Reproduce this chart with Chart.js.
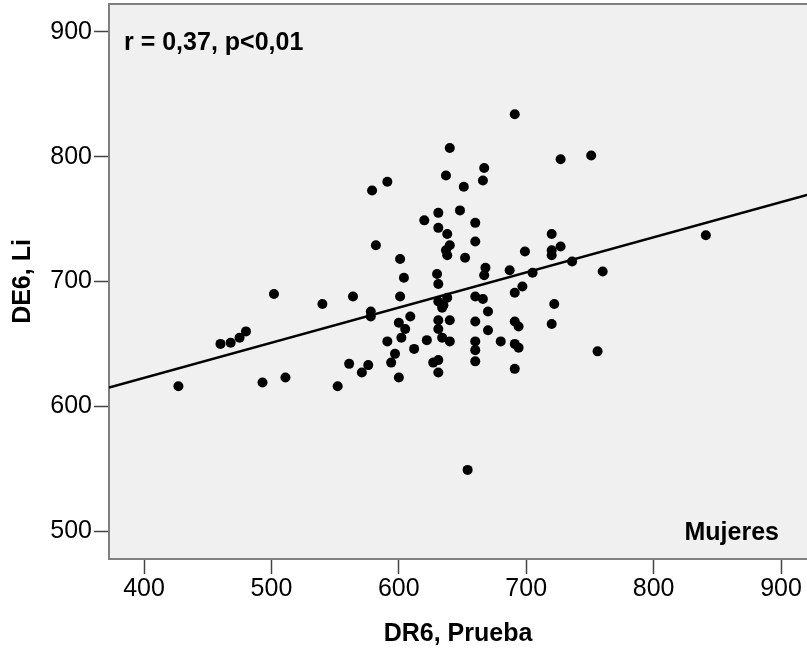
<!DOCTYPE html>
<html><head><meta charset="utf-8">
<script src="https://cdn.jsdelivr.net/npm/chart.js@4/dist/chart.umd.min.js"></script>
<style>html,body{margin:0;padding:0;background:#fff;overflow:hidden}canvas{display:block}</style>
</head><body>
<canvas id="c" width="807" height="652"></canvas>
<script>
// DR6, Prueba (x) values of each woman
const dr6Prueba = [
  427,460,468,475,480,502,493,511,540,564,
  552,561,571,576,578,578,591,594,597,600,
  600,605,602,609,612,622,601,601,604,579,
  591,582,620,631,631,648,640,637,651,667,
  666,660,660,638,640,637,638,652,630,631,
  668,667,687,699,705,720,720,720,727,727,
  751,691,736,760,841,691,697,722,720,631,
  638,634,635,660,666,670,660,670,691,694,
  631,640,631,634,640,627,631,631,660,660,
  660,680,691,694,691,756,654
];
// DE6, Li (y) values, same order
const de6Li = [
  616,650,651,655,660,690,619,623,682,688,
  616,634,627,633,676,672,652,635,642,623,
  667,662,655,672,646,653,688,718,703,773,
  780,729,749,755,743,757,807,785,776,791,
  781,747,732,738,729,725,721,719,706,698,
  711,705,709,724,707,738,725,721,728,798,
  801,834,716,708,737,691,696,682,666,684,
  687,679,681,688,686,676,668,661,668,664,
  669,669,662,655,652,635,637,627,652,645,
  636,652,650,647,630,644,549
];
// regression line end points
const fitLineX = [372.5, 920.4];
const fitLineY = [615, 769.4];
const xTickValues = [400, 500, 600, 700, 800, 900];
const yTickValues = [500, 600, 700, 800, 900];
const xRange = [372.5, 920.4];
const yRange = [477.6, 922.4];
const xTitle = 'DR6, Prueba';
const yTitle = 'DE6, Li';
const statLabel = 'r = 0,37, p<0,01';
const groupLabel = 'Mujeres';

const FONT = "'Liberation Sans', Arial, sans-serif";
Chart.defaults.font.family = FONT;

const decor = {
  id: 'decor',
  beforeDraw(chart) {
    const {ctx, chartArea: a} = chart;
    ctx.save();
    ctx.fillStyle = '#f0f0f0';
    ctx.fillRect(a.left, a.top, a.right - a.left, a.bottom - a.top);
    ctx.strokeStyle = '#808080';
    ctx.lineWidth = 2;
    ctx.beginPath();
    ctx.moveTo(a.left, a.top);
    ctx.lineTo(a.right, a.top);
    ctx.stroke();
    ctx.restore();
  },
  afterDatasetsDraw(chart) {
    const {ctx, chartArea: a} = chart;
    ctx.save();
    ctx.fillStyle = '#000';
    ctx.font = "bold 25px " + FONT;
    ctx.textBaseline = 'alphabetic';
    ctx.textAlign = 'left';
    ctx.fillText(statLabel, a.left + 15, a.top + 46);
    ctx.textAlign = 'right';
    ctx.fillText(groupLabel, a.right - 28, a.bottom - 19);
    ctx.restore();
  }
};

const pts = dr6Prueba.map((x, i) => ({x: x, y: de6Li[i]}));
const line = fitLineX.map((x, i) => ({x: x, y: fitLineY[i]}));

new Chart(document.getElementById('c'), {
  type: 'scatter',
  data: {
    datasets: [
      {data: line, showLine: true, borderColor: '#000', borderWidth: 2.5, pointRadius: 0, fill: false, order: 2},
      {data: pts, pointRadius: 5, backgroundColor: '#000', borderWidth: 0, order: 1}
    ]
  },
  options: {
    responsive: false,
    animation: false,
    events: [],
    layout: {autoPadding: false, padding: {top: 4, left: 0, right: 0, bottom: 0}},
    plugins: {legend: {display: false}, tooltip: {enabled: false}},
    scales: {
      x: {
        type: 'linear', min: xRange[0], max: xRange[1],
        afterBuildTicks: s => { s.ticks = xTickValues.map(v => ({value: v})); },
        afterFit: s => { s.height = 93; s.paddingLeft = 0; s.paddingRight = 0; },
        ticks: {font: {size: 25}, color: '#000', padding: 0, maxRotation: 0, autoSkip: false},
        grid: {drawOnChartArea: false, drawTicks: true, tickLength: 15, tickColor: '#444', tickWidth: 1.5},
        border: {color: '#808080', width: 2},
        title: {display: true, text: xTitle, color: '#000', font: {size: 25, weight: 'bold'}, padding: {top: 0, bottom: 3}}
      },
      y: {
        type: 'linear', min: yRange[0], max: yRange[1],
        afterBuildTicks: s => { s.ticks = yTickValues.map(v => ({value: v})); },
        afterFit: s => { s.width = 109; s.paddingTop = 0; s.paddingBottom = 0; },
        ticks: {font: {size: 25}, color: '#000', padding: 2, autoSkip: false},
        grid: {drawOnChartArea: false, drawTicks: true, tickLength: 15, tickColor: '#444', tickWidth: 1.5},
        border: {color: '#808080', width: 2},
        title: {display: true, text: yTitle, color: '#000', font: {size: 25, weight: 'bold'}, padding: {top: 8, bottom: 0}}
      }
    }
  },
  plugins: [decor]
});
</script>
</body></html>
